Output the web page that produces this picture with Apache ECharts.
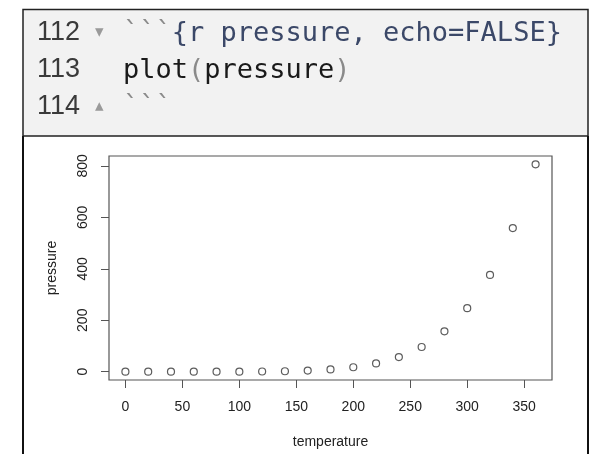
<!doctype html>
<html>
    <head>
        <meta charset="utf-8">
        <title>plot(pressure)</title>
        <style>
            html, body { margin: 0; padding: 0; background: #fff; }
            #main { width: 592px; height: 454px; }
        </style>
    </head>
    <body>
        <div id="main"></div>
        <script src="https://cdn.jsdelivr.net/npm/echarts@6/dist/echarts.min.js"></script>
        <script>
            // R's built-in pressure dataset
            var temperature = [0, 20, 40, 60, 80, 100, 120, 140, 160, 180, 200, 220, 240, 260, 280, 300, 320, 340, 360];
            var pressure = [0.0002, 0.0012, 0.006, 0.03, 0.09, 0.27, 0.75, 1.85, 4.2, 8.8, 17.3, 32.1, 57, 96, 157, 247, 376, 558, 806];
            var xTicks = [0, 50, 100, 150, 200, 250, 300, 350];
            var yTicks = [0, 200, 400, 600, 800];
            var lineNumbers = ['112', '113', '114'];
            var foldMarks = ['\u25BE', '', '\u25B4'];

            var chart = echarts.init(document.getElementById('main'));

            var data = temperature.map(function (t, i) { return [t, pressure[i]]; });

            // R pads the data range by 4% on each side
            var xPad = (360 - 0) * 0.04;
            var yPad = (806 - 0.0002) * 0.04;

            var mono = '"DejaVu Sans Mono", monospace';
            var lineY = [33, 70, 107];
            var headColor = '#3b4868';

            // closing brace of the chunk header is left as plain text (base fill)
            var codeLines = [
                '{g|```}{h|{r pressure, echo=FALSE}}',
                '{k|plot}{g|(}{k|pressure}{g|)}',
                '{g|```}'
            ];
            var rich = {
                g: { fill: '#8a8a8a', font: '27px ' + mono },
                h: { fill: headColor, font: '27px ' + mono },
                k: { fill: '#1a1a1a', font: '27px ' + mono }
            };

            var graphics = [
                // code panel
                { type: 'rect', shape: { x: 23, y: 9.5, width: 565, height: 126.5 },
                  style: { fill: '#f2f2f2', stroke: '#222', lineWidth: 1.5 }, z: 0 },
                // plot panel borders
                { type: 'line', shape: { x1: 23, y1: 136, x2: 23, y2: 454 }, style: { stroke: '#111', lineWidth: 2 } },
                { type: 'line', shape: { x1: 588, y1: 136, x2: 588, y2: 454 }, style: { stroke: '#111', lineWidth: 2 } }
            ];
            lineNumbers.forEach(function (n, i) {
                graphics.push({ type: 'text', x: 37, y: lineY[i],
                    style: { text: n, font: '27px "Liberation Sans", sans-serif', fill: '#3a3a3a', verticalAlign: 'middle' } });
                if (foldMarks[i]) {
                    graphics.push({ type: 'text', x: 95, y: lineY[i],
                        style: { text: foldMarks[i], font: '17px "DejaVu Sans", sans-serif', fill: '#9a9a9a', verticalAlign: 'middle' } });
                }
                graphics.push({ type: 'text', x: 123, y: lineY[i] + 1,
                    style: { text: codeLines[i], rich: rich, fill: headColor, font: '27px ' + mono, verticalAlign: 'middle' } });
            });

            chart.setOption({
                animation: false,
                backgroundColor: '#fff',
                textStyle: { fontFamily: '"Liberation Sans", Arial, sans-serif' },
                graphic: graphics,
                grid: {
                    left: 109, right: 40, top: 156, bottom: 74,
                    show: true, borderColor: '#555', borderWidth: 1.2, backgroundColor: 'transparent'
                },
                xAxis: {
                    type: 'value',
                    min: -xPad, max: 360 + xPad,
                    name: 'temperature',
                    nameLocation: 'middle',
                    nameGap: 55,
                    nameTextStyle: { fontSize: 14, color: '#222' },
                    splitLine: { show: false },
                    axisLine: { show: false, onZero: false },
                    axisTick: { show: true, length: 8, customValues: xTicks, lineStyle: { color: '#555' } },
                    axisLabel: { customValues: xTicks, fontSize: 14, color: '#222', margin: 20 }
                },
                yAxis: {
                    type: 'value',
                    min: -yPad, max: 806 + yPad,
                    name: 'pressure',
                    nameLocation: 'middle',
                    nameGap: 50,
                    nameTextStyle: { fontSize: 14, color: '#222' },
                    splitLine: { show: false },
                    axisLine: { show: false, onZero: false },
                    axisTick: { show: true, length: 8, customValues: yTicks, lineStyle: { color: '#555' } },
                    axisLabel: { customValues: yTicks, fontSize: 14, color: '#222', margin: 19, rotate: 90 }
                },
                series: [{
                    type: 'scatter',
                    data: data,
                    symbol: 'circle',
                    symbolSize: 7,
                    itemStyle: { color: '#fff', borderColor: '#333', borderWidth: 1.2 }
                }]
            });

            window.onresize = chart.resize;
        </script>
    </body>
</html>
